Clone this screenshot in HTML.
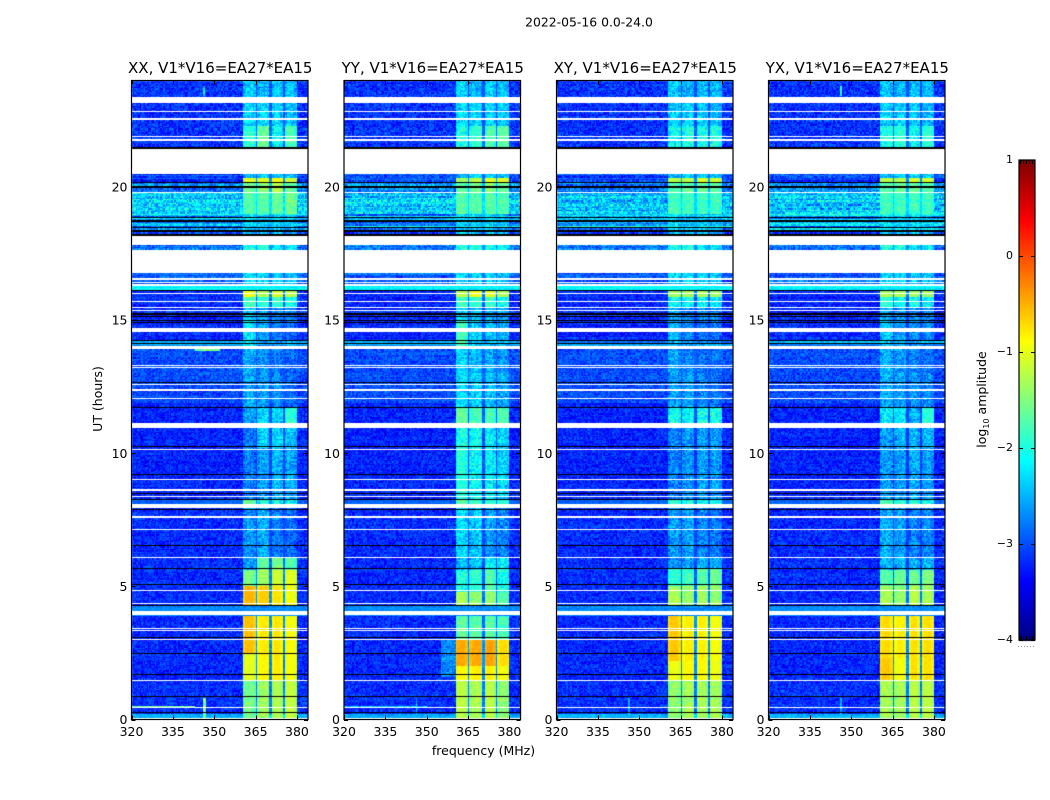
<!DOCTYPE html>
<html lang="en">
<head>
<meta charset="utf-8">
<title>2022-05-16 0.0-24.0 amplitude waterfall</title>
<style>
html,body{margin:0;padding:0;background:#fff;width:1050px;height:800px;overflow:hidden}
#stage{position:relative;width:1050px;height:800px}
#heat,#axes{position:absolute;left:0;top:0}
text{font-family:"DejaVu Sans","Liberation Sans",sans-serif;fill:#000}
</style>
</head>
<body>
<div id="stage">
<canvas id="heat" width="1050" height="800"></canvas>
<svg id="axes" width="1050" height="800" viewBox="0 0 1050 800">
<text x="589" y="26.5" font-size="12.4" text-anchor="middle">2022-05-16 0.0-24.0</text>
<text x="483.5" y="755" font-size="12.5" text-anchor="middle">frequency (MHz)</text>
<text transform="translate(102,399) rotate(-90)" font-size="12.5" text-anchor="middle">UT (hours)</text>
<text transform="translate(986,399.5) rotate(-90)" font-size="12.5" text-anchor="middle">log<tspan font-size="8" dy="3">10</tspan><tspan dy="-3"> amplitude</tspan></text>
</svg>
</div>
<script>
/* ---------- chart data ---------- */
const panelTitles = ["XX, V1*V16=EA27*EA15","YY, V1*V16=EA27*EA15","XY, V1*V16=EA27*EA15","YX, V1*V16=EA27*EA15"];
const freqTicks = [320,335,350,365,380];
const timeTicks = [0,5,10,15,20];
const colorTicks = [1,0,-1,-2,-3,-4];
const freqDomain = [320,384];
const timeDomain = [0,24];
const levelDomain = [-4,1];
const channelWidth = 0.5;   /* MHz */
const rowHours = 0.05;      /* hours */

/* sub-band edges, MHz */
const subbands = [[360.4,365],[365.7,370.2],[370.8,374.8],[375.6,379.8]];

/* off-band level: tStart, tEnd, log10 amplitude, pixel spread, row spread */
const backgroundBands = [
 [0,0.22,-2.5,0.18,0.05],[0.22,1.5,-3.16,0.3,0.03],[1.5,3.9,-3.2,0.3,0.03],[3.9,4.3,-2.7,0.15,0.04],
 [4.3,8.09,-3.18,0.3,0.04],[8.09,8.25,-2.9,0.15,0.03],[8.25,11.9,-3.22,0.3,0.05],[11.9,13.9,-3.02,0.3,0.05],
 [13.9,14.25,-2.65,0.2,0.25],[14.25,15.85,-3.2,0.32,0.1],[15.85,16.13,-3.18,0.3,0.05],[16.13,16.28,-2.15,0.12,0.1],
 [16.28,17.0,-2.95,0.3,0.2],[17.0,18.2,-2.85,0.4,0.15],[18.2,18.4,-3.1,0.32,0.1],[18.4,19,-2.55,0.38,0.5],
 [19,19.8,-2.4,0.5,0.22],[19.8,20.2,-2.75,0.42,0.2],[20.2,20.5,-3.05,0.35,0.25],[21.4,24,-3.15,0.35,0.05]
];

/* on-band levels: tStart, tEnd, band1, band2, band3, band4 */
const bandLevelsXX = [
 [0,1.5,-1.55,-1.35,-1.25,-1.15],[1.5,2.5,-1.0,-0.85,-0.78,-0.9],[2.5,3.9,-0.55,-0.78,-0.75,-0.88],[4.3,5,-0.5,-0.62,-0.72,-0.92],
 [5,5.6,-1.55,-1.35,-1.1,-1.0],[5.6,6.05,-2.6,-1.65,-1.5,-1.7],[6.05,8.09,-2.65,-2.5,-2.75,-2.85],[8.09,8.25,-1.6,-2.0,-2.0,-2.05],
 [8.25,10.2,-2.75,-2.6,-2.45,-2.55],[10.2,11,-2.8,-2.35,-2.3,-2.4],[11.1,11.7,-2.6,-2.3,-2.3,-1.9],[11.7,13,-2.55,-2.6,-2.65,-2.85],
 [13,14,-2.5,-2.65,-2.75,-2.85],[14,15,-2.2,-2.6,-2.75,-2.85],[15,15.5,-2.4,-2.6,-2.7,-2.7],[15.5,15.85,-1.75,-1.9,-1.8,-2.0],
 [15.85,16.08,-0.9,-1.25,-1.05,-1.2],[16.28,17,-2.3,-2.3,-2.3,-2.4],[17.6,18.2,-2.0,-1.9,-2.2,-2.2],[18.2,19,-2.3,-2.4,-2.3,-2.5],
 [19,19.8,-1.7,-1.7,-1.6,-1.55],[19.8,20.15,-1.6,-1.45,-1.2,-1.6],[20.15,20.35,-1.0,-1.0,-0.85,-1.1],[20.35,20.5,-2.5,-2.3,-2.3,-2.4],
 [21.4,22.3,-1.9,-1.6,-2.1,-1.75],[22.3,23.4,-2.3,-2.3,-2.3,-2.4],[23.4,24,-2.35,-2.5,-2.35,-2.45]
];
const bandLevelsYY = [
 [0,1.5,-1.2,-1.3,-1.2,-1.4],[1.5,2,-0.85,-0.8,-0.8,-0.9],[2,3.0,-0.45,-0.45,-0.42,-0.7],[3.0,3.9,-1.65,-1.7,-1.7,-1.8],[4.3,4.8,-1.3,-1.4,-1.4,-1.7],
 [4.8,5.6,-2.0,-1.9,-1.7,-2.0],[5.6,6.05,-2.45,-2.4,-2.15,-2.15],[6.05,8.09,-2.3,-2.4,-2.6,-2.7],[8.09,8.25,-1.7,-1.8,-1.9,-1.95],
 [8.25,10.2,-1.95,-2.1,-2.2,-2.3],[10.2,11,-2.0,-2.1,-2.2,-2.3],[11.1,11.7,-1.6,-1.75,-1.75,-1.7],[11.7,13,-2.3,-2.35,-2.45,-2.55],
 [13,14,-2.3,-2.45,-2.55,-2.65],[14,15,-1.8,-2.35,-2.45,-2.45],[15,15.5,-2.3,-2.45,-2.55,-2.55],[15.5,15.85,-1.8,-1.9,-1.8,-2.0],
 [15.85,16.08,-1.2,-0.95,-1.0,-1.25],[16.28,17,-2.3,-2.3,-2.3,-2.4],[17.6,18.2,-2.0,-2.0,-2.1,-2.2],[18.2,19,-2.3,-2.4,-2.3,-2.5],
 [19,19.8,-1.7,-1.7,-1.7,-1.7],[19.8,20.15,-1.7,-1.6,-1.45,-1.6],[20.15,20.35,-1.3,-1.2,-1.0,-1.0],[20.35,20.5,-2.5,-2.3,-2.3,-2.4],
 [21.4,22.3,-2.0,-1.9,-1.75,-1.65],[22.3,23.4,-2.3,-2.3,-2.3,-2.4],[23.4,24,-2.35,-2.5,-2.35,-2.45]
];
const bandLevelsXY = [
 [0,1.5,-1.4,-1.3,-1.3,-1.3],[1.5,2.2,-0.95,-0.85,-0.85,-0.95],[2.2,3.9,-0.6,-0.8,-0.8,-0.9],[4.3,5,-1.3,-1.4,-1.3,-1.4],
 [5,5.7,-1.9,-1.8,-1.7,-1.6],[5.7,6.05,-2.6,-2.6,-2.5,-2.5],[6.05,8.09,-2.6,-2.6,-2.7,-2.8],[8.09,8.25,-1.9,-2.0,-2.0,-2.0],
 [8.25,10.2,-2.75,-2.65,-2.55,-2.6],[10.2,11,-2.7,-2.6,-2.6,-2.6],[11.1,11.7,-2.0,-2.15,-2.0,-2.0],[11.7,13,-2.6,-2.6,-2.7,-2.8],
 [13,14,-2.55,-2.7,-2.8,-2.8],[14,15,-2.5,-2.7,-2.8,-2.8],[15,15.5,-2.5,-2.7,-2.7,-2.7],[15.5,15.85,-2.1,-2.1,-2.1,-2.2],
 [15.85,16.08,-1.3,-1.3,-1.25,-1.35],[16.28,17,-2.3,-2.3,-2.3,-2.4],[17.6,18.2,-2.0,-2.0,-2.2,-2.2],[18.2,19,-2.3,-2.4,-2.3,-2.5],
 [19,19.8,-1.8,-1.8,-1.8,-1.8],[19.8,20.15,-1.7,-1.6,-1.6,-1.7],[20.15,20.35,-1.2,-1.2,-1.0,-1.1],[20.35,20.5,-2.5,-2.3,-2.3,-2.4],
 [21.4,22.3,-2.1,-2.0,-2.0,-2.0],[22.3,23.4,-2.35,-2.35,-2.35,-2.45],[23.4,24,-2.4,-2.5,-2.4,-2.45]
];
const bandLevelsYX = [
 [0,1.5,-1.3,-1.3,-1.2,-1.2],[1.5,2.3,-0.6,-0.9,-0.72,-0.72],[2.3,3.9,-0.7,-0.8,-0.72,-0.72],[4.3,5,-1.3,-1.4,-1.2,-1.3],
 [5,5.6,-1.7,-1.6,-1.6,-1.5],[5.6,6.05,-2.5,-2.5,-2.5,-2.5],[6.05,8.09,-2.5,-2.6,-2.7,-2.7],[8.09,8.25,-1.7,-1.9,-1.9,-2.0],
 [8.25,10.2,-2.6,-2.6,-2.5,-2.6],[10.2,11,-2.6,-2.5,-2.5,-2.5],[11.1,11.7,-2.2,-2.2,-2.5,-1.9],[11.7,13,-2.5,-2.6,-2.6,-2.7],
 [13,14,-2.5,-2.6,-2.7,-2.8],[14,15,-2.4,-2.6,-2.7,-2.7],[15,15.5,-2.5,-2.6,-2.7,-2.7],[15.5,15.85,-1.9,-2.1,-2.0,-2.2],
 [15.85,16.08,-1.3,-1.25,-1.3,-1.3],[16.28,17,-2.3,-2.3,-2.3,-2.4],[17.6,18.2,-2.0,-2.0,-2.2,-2.2],[18.2,19,-2.3,-2.4,-2.3,-2.5],
 [19,19.8,-1.8,-1.8,-1.8,-1.8],[19.8,20.15,-1.7,-1.6,-1.6,-1.7],[20.15,20.35,-1.2,-1.2,-1.05,-1.1],[20.35,20.5,-2.5,-2.3,-2.3,-2.4],
 [21.4,22.3,-2.0,-1.9,-2.1,-1.9],[22.3,23.4,-2.35,-2.35,-2.35,-2.45],[23.4,24,-2.4,-2.5,-2.4,-2.45]
];

/* interference patches: panel index, fStart, fEnd, tStart, tEnd, level */
const interference = [
 [0,346.0,346.8,0.05,0.8,-1.5],[1,346.0,346.6,0.05,0.8,-2.5],[2,346.0,346.6,0.05,0.8,-2.5],[3,346.0,346.6,0.05,0.8,-2.5],
 [0,343,352,13.85,13.97,-1.5],[1,355,360.4,1.6,3.0,-2.7],[0,346,346.5,23.4,23.8,-2.2],[3,346,346.5,23.4,23.8,-2.0],
 [0,320,343,0.44,0.5,-1.6],[1,320,350,0.44,0.5,-2.4]
];

/* flagged time ranges (hours): no data (white) */
const blankRanges = [
 [0,0.05],[0.42,0.46],[1.43,1.5],[2.98,3.02],[3.31,3.35],[3.41,3.45],[3.91,4.06],[4.32,4.36],[4.81,4.85],[6.05,6.09],[7.11,7.14],
 [7.57,7.63],[7.93,8.09],[8.37,8.41],[8.58,8.64],[9.02,9.05],[10.11,10.15],[10.94,11.12],[12.03,12.07],[12.34,12.41],[12.56,12.59],
 [13.21,13.24],[13.3,13.33],[13.9,14.03],[14.54,14.69],[15.34,15.38],[15.44,15.48],[15.68,15.71],[16.3,16.34],
 [16.41,16.45],[16.52,16.58],[16.78,16.84],[16.85,17.57],[17.57,17.63],[17.82,18.16],[19.76,19.82],[20.49,21.43],[21.71,21.79],
 [21.86,21.9],[22.52,22.58],[22.82,22.87],[23.15,23.39]
];
/* flagged time ranges (hours): zero amplitude (black) */
const zeroRanges = [
 [0.23,0.27],[0.86,0.9],[1.69,1.72],[2.48,2.51],[3.07,3.11],[4.25,4.31],[5.07,5.09],[5.67,5.7],[6.5,6.54],[7.89,7.92],[8.24,8.29],[8.46,8.52],
 [9.17,9.21],[10.24,10.27],[11.69,11.73],[12.65,12.68],[14.1,14.15],[14.21,14.24],[14.89,14.92],[14.97,15.0],[15.11,15.15],
 [15.21,15.25],[16.08,16.13],[18.16,18.23],[18.32,18.39],[18.46,18.51],[18.7,18.76],[18.83,18.88],[19.98,20.04],[20.15,20.2],[21.43,21.49]
];

/* typed speckle tile for the receiver noise texture */
const speckle = [0.31,-0.72,0.55,-0.18,0.9,-0.44,0.07,-0.95,0.63,0.22,-0.51,0.78,-0.09,-0.66,0.41,0.97,-0.3,0.14,-0.83,0.5,
 -0.25,0.69,-0.58,0.03,0.86,-0.77,0.36,-0.12,0.6,-0.92,0.26,0.73,-0.39,-0.04,0.47,-0.68,0.94,-0.21,0.11,-0.55,
 0.81,-0.35,0.19,-0.87,0.58,0.02,-0.47,0.66,-0.15,0.39,-0.74,0.29,0.88,-0.6,-0.06,0.52,-0.98,0.17,0.75,-0.28,
 0.44,-0.81,0.09,0.61,-0.42,0.99,-0.16,-0.63,0.33,0.71,-0.89,0.24,-0.5,0.84,-0.01,0.42,-0.7,0.13,0.56,-0.33,
 -0.93,0.67,0.05,-0.24,0.77,-0.53,0.37,0.92,-0.79,0.21,-0.11,0.48,-0.65,0.82,-0.38,0.16,-0.85];
const rowSpeckle = [0.4,-0.8,0.15,0.95,-0.3,-0.65,0.7,0.05,-0.95,0.55,-0.15,0.85,-0.5,0.25,-0.75,0.6,0.1,-0.4,1.0,-0.9,
 0.35,-0.2,0.75,-0.6,0.0,0.5,-0.85,0.9,-0.35,0.2,-0.7,0.65,-0.1,0.45,-1.0,0.8,-0.25,-0.55,0.3,0.98,-0.45,0.12,-0.78,
 0.58,-0.05,0.38,-0.88,0.72,-0.3,0.18,-0.62,0.88,-0.12];

/* ---------- layout ---------- */
const panelLefts = [131.5,344,556.5,768.5];
const panelWidth = 176.5;
const plotTop = 80.5, plotBottom = 719.5;
const barLeft = 1019, barRight = 1035, barTop = 160, barBottom = 640;
const SVGNS = "http://www.w3.org/2000/svg";
const axes = document.getElementById("axes");
const ctx = document.getElementById("heat").getContext("2d");
const bandLevelSets = [bandLevelsXX,bandLevelsYY,bandLevelsXY,bandLevelsYX];

/* ---------- scales ---------- */
function xScale(p,f){return panelLefts[p]+(f-freqDomain[0])/(freqDomain[1]-freqDomain[0])*panelWidth;}
function yScale(t){return plotBottom-(t-timeDomain[0])/(timeDomain[1]-timeDomain[0])*(plotBottom-plotTop);}
function colorY(v){return barBottom-(v-levelDomain[0])/(levelDomain[1]-levelDomain[0])*(barBottom-barTop);}
function clamp(v){return Math.max(0,Math.min(1,v));}
function jet(v){
  const f=clamp((v-levelDomain[0])/(levelDomain[1]-levelDomain[0]));
  const r=clamp(Math.min(4*f-1.5,-4*f+4.5)),g=clamp(Math.min(4*f-0.5,-4*f+3.5)),b=clamp(Math.min(4*f+0.5,-4*f+2.5));
  return "rgb("+Math.round(r*255)+","+Math.round(g*255)+","+Math.round(b*255)+")";
}
function lookup(rows,t){for(const row of rows){if(t>=row[0]&&t<row[1])return row;}return null;}

/* ---------- heatmaps ---------- */
ctx.fillStyle="#fff";ctx.fillRect(0,0,1050,800);
panelTitles.forEach(function(title,p){
  const levels=bandLevelSets[p];
  const nRows=Math.round((timeDomain[1]-timeDomain[0])/rowHours);
  const nChans=Math.round((freqDomain[1]-freqDomain[0])/channelWidth);
  for(let r=0;r<nRows;r++){
    const t=timeDomain[0]+(r+0.5)*rowHours;
    const bg=lookup(backgroundBands,t);
    if(!bg)continue;
    const on=lookup(levels,t);
    const y1=Math.round(yScale(t+rowHours/2)),y2=Math.round(yScale(t-rowHours/2));
    const rowOff=rowSpeckle[(r*7+p*5)%rowSpeckle.length]*bg[4];
    for(let c=0;c<nChans;c++){
      const f=freqDomain[0]+(c+0.5)*channelWidth;
      let value=bg[2]+rowOff;
      let spread=bg[3];
      if(on){
        let inBand=false;
        for(let b=0;b<subbands.length;b++){
          if(f>=subbands[b][0]&&f<subbands[b][1]){
            const edge=Math.min(f-subbands[b][0],subbands[b][1]-f);
            value=Math.max(value,on[b+2]-(edge<0.8?0.1:0));
            spread=on[b+2]>-1.3?0.07:(on[b+2]>-2?0.22:0.34);
            inBand=true;
          }
        }
        if(!inBand&&f>subbands[0][0]&&f<subbands[3][1]){
          const peak=Math.max(on[2],on[3],on[4],on[5]);
          value=bg[2]+0.2*(peak-bg[2]);
          spread=0.15;
        }
      }
      for(const q of interference){
        if(q[0]===p&&f>=q[1]&&f<q[2]&&t>=q[3]&&t<q[4])value=Math.max(value,q[5]);
      }
      const g=speckle[(c*c*3+r*r*5+c*r+c*11+r*29+p*41)%speckle.length];
      ctx.fillStyle=jet(value+g*spread);
      const x1=Math.round(xScale(p,freqDomain[0]+c*channelWidth)),x2=Math.round(xScale(p,freqDomain[0]+(c+1)*channelWidth));
      ctx.fillRect(x1,y1,x2-x1,y2-y1);
    }
  }
  const left=Math.round(xScale(p,freqDomain[0])),right=Math.round(xScale(p,freqDomain[1]));
  function paint(ranges,color){
    ctx.fillStyle=color;
    ranges.forEach(function(k){
      const ya=Math.round(yScale(k[1])),yb=Math.round(yScale(k[0]));
      ctx.fillRect(left,ya,right-left,Math.max(1,yb-ya));
    });
  }
  paint(zeroRanges,"#000");
  paint(blankRanges,"#fff");
});

/* ---------- colour bar ---------- */
for(let i=0;i<480;i++){
  const v=levelDomain[0]+(i+0.5)/480*(levelDomain[1]-levelDomain[0]);
  ctx.fillStyle=jet(v);
  ctx.fillRect(barLeft,Math.floor(colorY(v)),barRight-barLeft,2);
}

/* ---------- svg helpers ---------- */
function drawLine(x1,y1,x2,y2,name,width,color,dash){
  const l=document.createElementNS(SVGNS,"line");
  l.setAttribute("x1",x1);l.setAttribute("y1",y1);l.setAttribute("x2",x2);l.setAttribute("y2",y2);
  l.setAttribute("stroke",color||"#000");l.setAttribute("stroke-width",width||1);
  if(dash)l.setAttribute("stroke-dasharray",dash);
  
  
  axes.appendChild(l);
}
function drawLabel(x,y,str,anchor,size,name){
  const s=document.createElementNS(SVGNS,"text");
  s.setAttribute("x",x);s.setAttribute("y",y);s.setAttribute("text-anchor",anchor);s.setAttribute("font-size",size);
  s.textContent=str;
  
  
  axes.appendChild(s);
}
function drawFrame(x,y,w,h,name){
  const f=document.createElementNS(SVGNS,"rect");
  f.setAttribute("x",x);f.setAttribute("y",y);f.setAttribute("width",w);f.setAttribute("height",h);
  f.setAttribute("fill","none");f.setAttribute("stroke","#000");f.setAttribute("stroke-width","1.2");
  
  
  axes.appendChild(f);
}

/* ---------- panel axes ---------- */
panelTitles.forEach(function(title,p){
  const left=xScale(p,freqDomain[0]),right=xScale(p,freqDomain[1]);
  drawFrame(left,plotTop,right-left,plotBottom-plotTop,"panel-frame-"+(p+1));
  drawLabel((left+right)/2+0.5,73,title,"middle",15,"panel-title-"+(p+1));
  freqTicks.forEach(function(f){
    const x=Math.round(xScale(p,f))+0.5;
    drawLine(x,plotBottom,x,plotBottom-4,"x-tick-bottom-"+f);
    drawLine(x,plotTop,x,plotTop+4,"x-tick-top-"+f);
    drawLabel(xScale(p,f),736,String(f),"middle",12.5,"x-tick-label-"+f);
  });
  timeTicks.forEach(function(t){
    const y=Math.round(yScale(t))+0.5;
    drawLine(left,y,left+4,y,"y-tick-left-"+t);
    drawLine(right,y,right-4,y,"y-tick-right-"+t);
    drawLabel(left-4,yScale(t)+4.5,String(t),"end",12.5,"y-tick-label-"+t);
  });
});

/* ---------- colour bar axis ---------- */
drawFrame(barLeft,barTop,barRight-barLeft,barBottom-barTop,"colorbar-frame");
colorTicks.forEach(function(v){
  const y=Math.round(colorY(v))+0.5;
  drawLine(barLeft,y,barLeft+4,y,"colorbar-tick-left");
  drawLine(barRight,y,barRight-4,y,"colorbar-tick-right");
  drawLabel(1013,colorY(v)+3,String(v).replace("-","\u2212"),"end",11,"colorbar-tick-label");
});
drawLine(barLeft+1,barTop+2,barRight-1,barTop+2,"colorbar-top-minor-ticks",4,"#000","1 2");
drawLine(barLeft+1,barBottom-2,barRight-1,barBottom-2,"colorbar-bottom-minor-ticks",4,"#000","1 2");
drawLine(barLeft-1,646.5,barRight,646.5,"colorbar-minor-dots",1,"#999","1 2");
</script>
</body>
</html>
